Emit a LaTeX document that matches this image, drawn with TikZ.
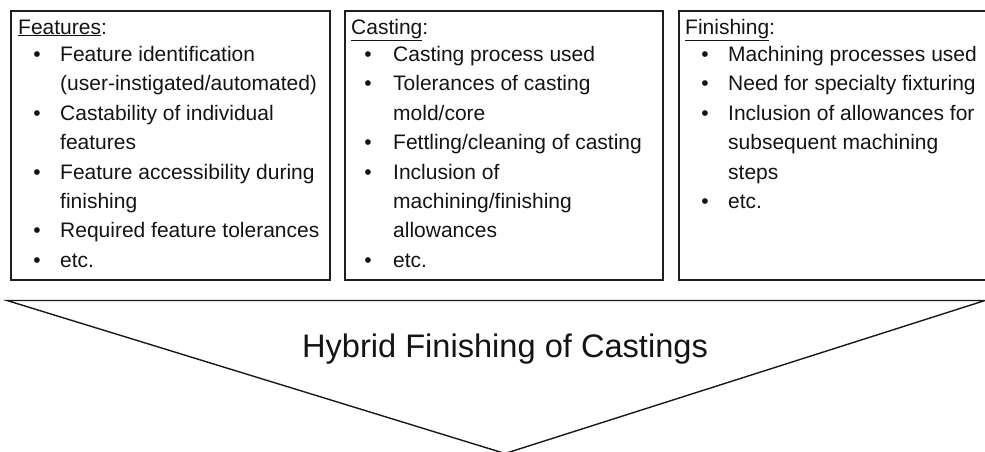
\documentclass[tikz,border=0pt]{standalone}
\usepackage{fontspec}
\setmainfont{Liberation Sans}
\begin{document}
\begin{tikzpicture}[x=1pt,y=-1pt,
  panel/.style={draw=black!88,line width=1.6pt},
  funnel/.style={draw=black!90,line width=1.4pt},
  txt/.style={inner sep=0pt,anchor=base west,font=\fontsize{21}{25}\selectfont,text=black!92},
  dot/.style={inner sep=0pt,anchor=base,font=\fontsize{21}{25}\selectfont,text=black!92},
  title/.style={inner sep=0pt,anchor=base,font=\fontsize{32.6}{38}\selectfont,text=black!92}]
\useasboundingbox (0,0) rectangle (985,451);
\clip (0,0) rectangle (985,451);

% three information panels
\draw[panel] (11,11) rectangle (330,280);
\draw[panel] (345,11) rectangle (663,280);
\draw[panel] (679,11) rectangle (1000,280);

% panel 1: features
\node[txt] (h1) at (18,34) {\underline{Features}:};
\node[dot] (b11) at (37,61.5) {•};
\node[txt] (t11) at (60,61.5) {Feature identification};
\node[txt] (t12) at (60,90.9) {(user-instigated/automated)};
\node[dot] (b12) at (37,120.3) {•};
\node[txt] (t13) at (60,120.3) {Castability of individual};
\node[txt] (t14) at (60,149.7) {features};
\node[dot] (b13) at (37,179.1) {•};
\node[txt] (t15) at (60,179.1) {Feature accessibility during};
\node[txt] (t16) at (60,208.5) {finishing};
\node[dot] (b14) at (37,237.9) {•};
\node[txt] (t17) at (60,237.9) {Required feature tolerances};
\node[dot] (b15) at (37,267.3) {•};
\node[txt] (t18) at (60,267.3) {etc.};

% panel 2: casting
\node[txt] (h2) at (351,34) {\underline{Casting}:};
\node[dot] (b21) at (368,61.5) {•};
\node[txt] (t21) at (393,61.5) {Casting process used};
\node[dot] (b22) at (368,90.9) {•};
\node[txt] (t22) at (393,90.9) {Tolerances of casting};
\node[txt] (t23) at (393,120.3) {mold/core};
\node[dot] (b23) at (368,149.7) {•};
\node[txt] (t24) at (393,149.7) {Fettling/cleaning of casting};
\node[dot] (b24) at (368,179.1) {•};
\node[txt] (t25) at (393,179.1) {Inclusion of};
\node[txt] (t26) at (393,208.5) {machining/finishing};
\node[txt] (t27) at (393,237.9) {allowances};
\node[dot] (b25) at (368,267.3) {•};
\node[txt] (t28) at (393,267.3) {etc.};

% panel 3: finishing
\node[txt] (h3) at (685,34) {\underline{Finishing}:};
\node[dot] (b31) at (705,61.5) {•};
\node[txt] (t31) at (728,61.5) {Machining processes used};
\node[dot] (b32) at (705,90.9) {•};
\node[txt] (t32) at (728,90.9) {Need for specialty fixturing};
\node[dot] (b33) at (705,120.3) {•};
\node[txt] (t33) at (728,120.3) {Inclusion of allowances for};
\node[txt] (t34) at (728,149.7) {subsequent machining};
\node[txt] (t35) at (728,179.1) {steps};
\node[dot] (b34) at (705,208.5) {•};
\node[txt] (t36) at (728,208.5) {etc.};

% converging funnel
\coordinate (fl) at (7,300.5);
\coordinate (fr) at (985,300.5);
\coordinate (fb) at (505,453.5);
\draw[funnel,line join=miter] (fl) -- (fr) -- (fb) -- cycle;
\node[title] (ttl) at (505,357) {Hybrid Finishing of Castings};
\end{tikzpicture}
\end{document}
